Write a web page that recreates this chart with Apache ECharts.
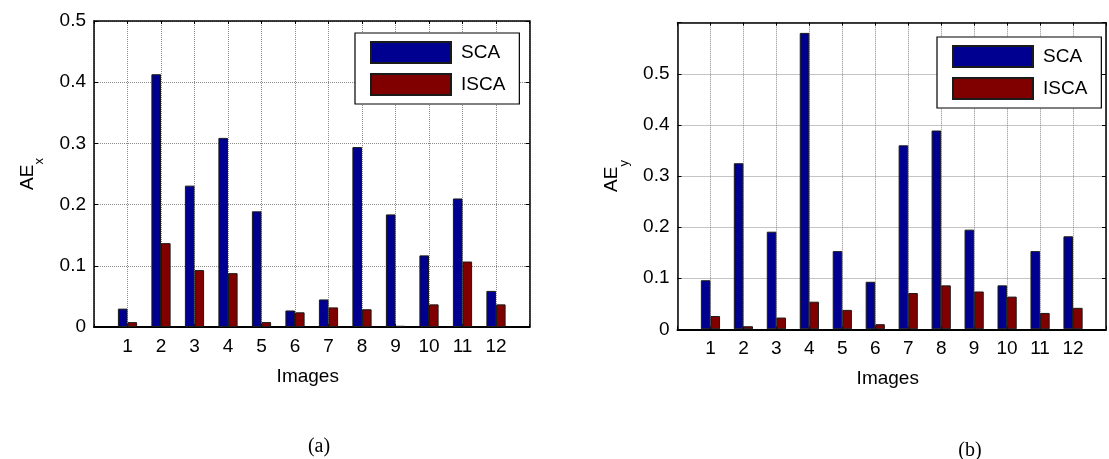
<!DOCTYPE html>
<html>
<head>
<meta charset="utf-8">
<script src="https://cdn.jsdelivr.net/npm/echarts@6/dist/echarts.min.js"></script>
<style>
  html, body { margin: 0; padding: 0; background: #fff; }
  #chart { width: 1109px; height: 459px; }
</style>
</head>
<body>
<div id="chart"></div>
<script>
// Image indices on the x axis
const images = ['1', '2', '3', '4', '5', '6', '7', '8', '9', '10', '11', '12'];

// (a) absolute error in x
const scaX = [0.030, 0.413, 0.231, 0.309, 0.189, 0.027, 0.045, 0.294, 0.184, 0.117, 0.210, 0.059];
const iscaX = [0.008, 0.137, 0.093, 0.088, 0.008, 0.024, 0.032, 0.029, 0.002, 0.037, 0.107, 0.037];

// (b) absolute error in y
const scaY = [0.096, 0.325, 0.191, 0.580, 0.153, 0.093, 0.360, 0.389, 0.195, 0.086, 0.153, 0.182];
const iscaY = [0.026, 0.006, 0.023, 0.054, 0.038, 0.010, 0.071, 0.086, 0.074, 0.064, 0.032, 0.042];

// y tick labels shown on each panel
const yTicksA = ['0', '0.1', '0.2', '0.3', '0.4', '0.5'];
const yTicksB = ['0', '0.1', '0.2', '0.3', '0.4', '0.5'];

const BLUE = '#000090';
const RED = '#800000';
const FONT = '"Liberation Sans", Arial, sans-serif';
const FS = 19;

// x range runs from 0 to 13 with the images at 1..12
const slots = [''].concat(images, ['']);
const pad = arr => [null].concat(arr, [null]);

const gridLine = { show: true, lineStyle: { color: '#8a8a8a', width: 1, type: [1, 1] } };
const frame = { show: true, onZero: false, lineStyle: { color: '#000', width: 1.5 } };

function xAxes(gridIndex) {
  return [
    {
      type: 'category', gridIndex, data: slots, boundaryGap: false, position: 'bottom',
      name: 'Images', nameLocation: 'middle', nameGap: 40,
      nameTextStyle: { fontFamily: FONT, fontSize: FS, color: '#000', padding: [0, 8, 0, 0] },
      axisLine: { show: true, onZero: false, lineStyle: { color: '#000', width: 2 } },
      axisTick: { show: true, inside: true, length: 3, interval: 0, lineStyle: { color: '#000' } },
      axisLabel: { interval: 0, margin: 10, fontFamily: FONT, fontSize: FS, color: '#000' },
      splitLine: Object.assign({ interval: 0 }, gridLine)
    },
    {
      type: 'category', gridIndex, data: slots, boundaryGap: false, position: 'top',
      axisLine: frame,
      axisTick: { show: true, inside: true, length: 3, interval: 0, lineStyle: { color: '#000' } },
      axisLabel: { show: false },
      splitLine: { show: false }
    }
  ];
}

function yAxes(gridIndex, max, ticks, sub, nameGap) {
  return [
    {
      type: 'value', gridIndex, min: 0, max, interval: 0.1, position: 'left',
      name: '{m|AE}{s|' + sub + '}', nameLocation: 'middle', nameGap, nameRotate: 90,
      nameTextStyle: {
        fontFamily: FONT, color: '#000',
        rich: {
          m: { fontFamily: FONT, fontSize: FS, lineHeight: 20, verticalAlign: 'top', color: '#000' },
          s: { fontFamily: FONT, fontSize: 13, lineHeight: 13, verticalAlign: 'top', padding: [15, 0, 0, 0], color: '#000' }
        }
      },
      axisLine: frame,
      axisTick: { show: true, inside: true, length: 4, lineStyle: { color: '#000' } },
      axisLabel: {
        margin: 8, fontFamily: FONT, fontSize: FS, color: '#000',
        formatter: (v) => { const i = Math.round(v * 10); return i < ticks.length ? ticks[i] : ''; }
      },
      splitLine: gridLine
    },
    {
      type: 'value', gridIndex, min: 0, max, interval: 0.1, position: 'right',
      axisLine: frame,
      axisTick: { show: true, inside: true, length: 4, lineStyle: { color: '#000' } },
      axisLabel: { show: false },
      splitLine: { show: false }
    }
  ];
}

function bars(name, values, color, axisBase) {
  return {
    type: 'bar', name, data: pad(values),
    xAxisIndex: axisBase, yAxisIndex: axisBase,
    barWidth: 9.6, barGap: '0%',
    itemStyle: { color, borderColor: '#1a1a1a', borderWidth: 1 },
    emphasis: { disabled: true }
  };
}

function legend(left, top) {
  return {
    orient: 'vertical', left, top,
    data: ['SCA', 'ISCA'],
    icon: 'rect', itemWidth: 80, itemHeight: 21, itemGap: 9,
    padding: [8, 14, 8, 15],
    backgroundColor: '#fff', borderColor: '#000', borderWidth: 1.2,
    textStyle: { fontFamily: FONT, fontSize: FS, color: '#000', padding: [0, 0, 0, 5] },
    selectedMode: false
  };
}

const chart = echarts.init(document.getElementById('chart'), null, { renderer: 'canvas' });
chart.setOption({
  animation: false,
  backgroundColor: '#fff',
  grid: [
    { left: 94, top: 21, width: 435.5, height: 306 },
    { left: 677.5, top: 22.7, width: 433.5, height: 306.6 }
  ],
  xAxis: xAxes(0).concat(xAxes(1)),
  yAxis: yAxes(0, 0.5, yTicksA, 'x', 56).concat(yAxes(1, 0.6, yTicksB, 'y', 55)),
  legend: [legend(355, 33), legend(937, 37)],
  series: [
    bars('SCA', scaX, BLUE, 0),
    bars('ISCA', iscaX, RED, 0),
    bars('SCA', scaY, BLUE, 2),
    bars('ISCA', iscaY, RED, 2)
  ],
  graphic: [
    { type: 'text', x: 319, y: 447, style: { text: '(a)', font: '20px "Liberation Serif", "Times New Roman", serif', fill: '#000', textAlign: 'center', textVerticalAlign: 'middle' } },
    { type: 'text', x: 970, y: 451, style: { text: '(b)', font: '20px "Liberation Serif", "Times New Roman", serif', fill: '#000', textAlign: 'center', textVerticalAlign: 'middle' } }
  ]
});
</script>
</body>
</html>
